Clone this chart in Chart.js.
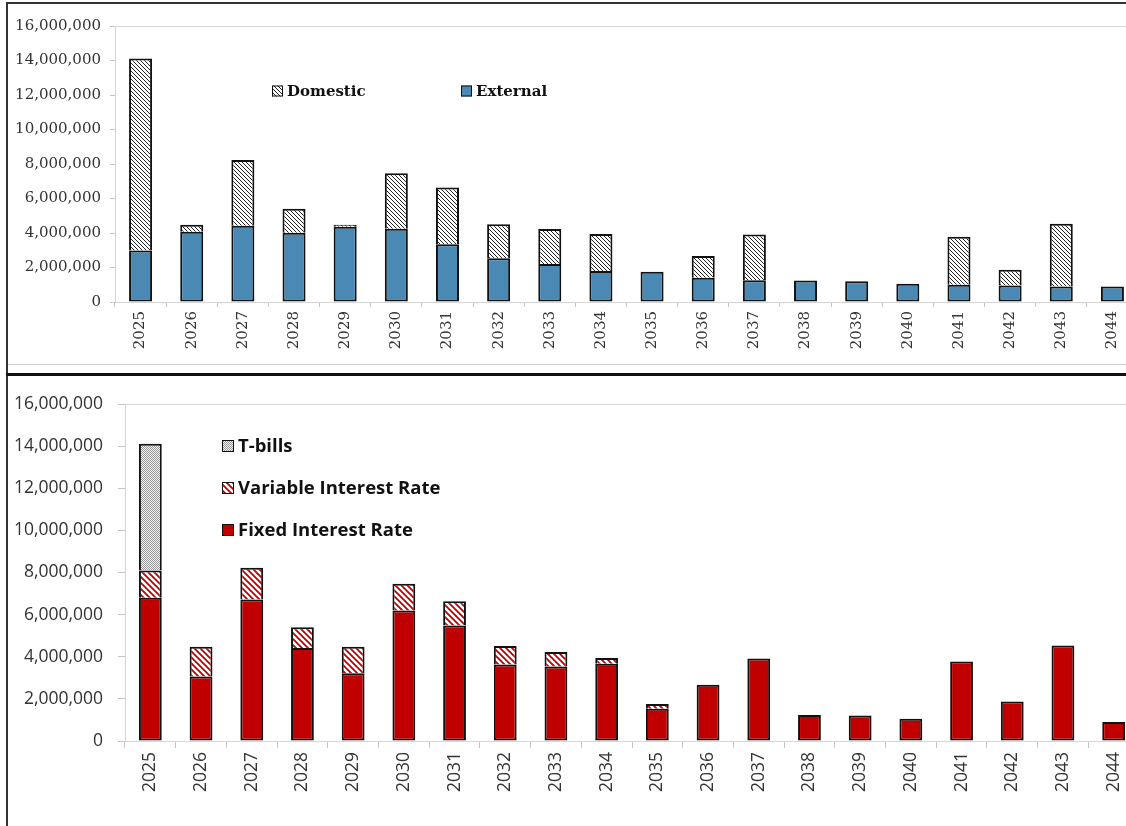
<!DOCTYPE html>
<html>
<head>
<meta charset="utf-8">
<title>Debt maturity profile</title>
<script src="https://cdn.jsdelivr.net/npm/chart.js@4.4.1/dist/chart.umd.min.js"></script>
<style>
  html, body { margin: 0; padding: 0; background: #fff; overflow: hidden; width: 1126px; height: 826px; }
  canvas { position: absolute; left: 0; }
  #topChart { top: 0; }
  #bottomChart { top: 376px; }
  .rule { position: absolute; pointer-events: none; }
</style>
</head>
<body>
<canvas id="topChart" width="1138" height="364"></canvas>
<canvas id="bottomChart" width="1139" height="450"></canvas>

<!-- panel frames -->
<div class="rule" style="left:6px;top:2px;width:1130px;height:2px;background:#333"></div>
<div class="rule" style="left:6px;top:2px;width:2px;height:374px;background:#333"></div>
<div class="rule" style="left:8px;top:364px;width:1130px;height:1px;background:#cfcfcf"></div>
<div class="rule" style="left:6px;top:373px;width:1130px;height:3px;background:#111"></div>
<div class="rule" style="left:6px;top:376px;width:2px;height:450px;background:#333"></div>

<script>
const years = ['2025', '2026', '2027', '2028', '2029', '2030', '2031', '2032', '2033', '2034',
  '2035', '2036', '2037', '2038', '2039', '2040', '2041', '2042', '2043', '2044'];

// by creditor
const external = [2980000, 4070000, 4420000, 4010000, 4360000, 4240000, 3350000, 2540000, 2210000, 1790000,
  1760000, 1410000, 1260000, 1240000, 1210000, 1060000, 1000000, 960000, 900000, 900000];
const domestic = [11130000, 410000, 3810000, 1390000, 120000, 3220000, 3290000, 1970000, 2020000, 2150000,
  0, 1260000, 2660000, 0, 0, 0, 2780000, 910000, 3630000, 0];

// by interest type
const fixedRate = [6800000, 3060000, 6720000, 4410000, 3220000, 6200000, 5480000, 3630000, 3540000, 3670000,
  1530000, 2670000, 3920000, 1240000, 1210000, 1060000, 3780000, 1870000, 4530000, 900000];
const variableRate = [1290000, 1420000, 1510000, 990000, 1260000, 1260000, 1160000, 880000, 690000, 270000,
  230000, 0, 0, 0, 0, 0, 0, 0, 0, 0];
const tBills = [6020000, 0, 0, 0, 0, 0, 0, 0, 0, 0, 0, 0, 0, 0, 0, 0, 0, 0, 0, 0];

const yTicks = { min: 0, max: 16000000, step: 2000000 };

// empty segments shouldn't leave a stroked sliver
const nz = arr => arr.map(v => (v === 0 ? null : v));

function tile(size, paint) {
  const c = document.createElement('canvas');
  c.width = c.height = size;
  const g = c.getContext('2d');
  paint(g, size);
  return g.createPattern(c, 'repeat');
}

function hatch(color, bg, size, lw) {
  return tile(size, (g, s) => {
    g.fillStyle = bg;
    g.fillRect(0, 0, s, s);
    g.strokeStyle = color;
    g.lineWidth = lw;
    g.beginPath();
    g.moveTo(-2, -2); g.lineTo(s + 2, s + 2);
    g.moveTo(-2, s - 2); g.lineTo(2, s + 2);
    g.moveTo(s - 2, -2); g.lineTo(s + 2, 2);
    g.stroke();
  });
}

const speckle = tile(2, (g) => {
  g.fillStyle = '#f0f0f0'; g.fillRect(0, 0, 2, 2);
  g.fillStyle = '#9a9a9a'; g.fillRect(0, 0, 1, 1); g.fillRect(1, 1, 1, 1);
});

const blackHatch = hatch('#222', '#fff', 4, 1);
const redHatch = hatch('#c00000', '#fff', 6, 1.8);
const steelBlue = '#4a89b3';
const darkRed = '#c00000';

// light frame around the plot area
const plotFrame = {
  id: 'plotFrame',
  beforeDatasetsDraw(chart) {
    const { ctx, chartArea: a } = chart;
    ctx.save();
    ctx.strokeStyle = '#d6d6d6';
    ctx.lineWidth = 1;
    ctx.strokeRect(a.left + 0.5, a.top + 0.5, a.right - a.left, a.bottom - a.top);
    ctx.restore();
  }
};

function insideLegend(items, font, box) {
  return {
    id: 'insideLegend',
    afterDraw(chart) {
      const ctx = chart.ctx;
      ctx.save();
      ctx.font = font;
      ctx.textBaseline = 'middle';
      items.forEach(it => {
        ctx.fillStyle = it.fill;
        ctx.fillRect(it.x, it.y - box / 2, box, box);
        ctx.strokeStyle = '#111';
        ctx.lineWidth = 1;
        ctx.strokeRect(it.x + 0.5, it.y - box / 2 + 0.5, box - 1, box - 1);
        ctx.fillStyle = '#111';
        ctx.fillText(it.text, it.x + box + 4, it.y + 1);
      });
      ctx.restore();
    }
  };
}

function buildOptions(fontFamily, fontSize, yWidth, xHeight, padTop, tickLen, yPad) {
  const font = { family: fontFamily, size: fontSize };
  return {
    responsive: false,
    animation: false,
    layout: { padding: { top: padTop, left: 0, right: 0, bottom: 0 } },
    plugins: { legend: { display: false }, tooltip: { enabled: false } },
    scales: {
      x: {
        stacked: true,
        grid: { drawOnChartArea: false, tickLength: tickLen, color: '#c6c6c6', offset: true },
        border: { color: '#c6c6c6' },
        ticks: { autoSkip: false, minRotation: 90, maxRotation: 90, padding: 4, color: '#333', font },
        afterFit: s => { s.height = xHeight; }
      },
      y: {
        stacked: true,
        min: yTicks.min,
        max: yTicks.max,
        grid: { drawOnChartArea: false, tickLength: tickLen, color: '#c6c6c6' },
        border: { color: '#c6c6c6' },
        ticks: {
          stepSize: yTicks.step,
          padding: yPad,
          color: '#333',
          font,
          callback: v => v.toLocaleString('en-US')
        },
        afterFit: s => { s.width = yWidth; }
      }
    }
  };
}

const barBase = { borderColor: '#111', borderWidth: 2, categoryPercentage: 1, barPercentage: 0.45 };

new Chart(document.getElementById('topChart'), {
  type: 'bar',
  data: {
    labels: years,
    datasets: [
      { ...barBase, label: 'External', data: nz(external), backgroundColor: steelBlue, borderSkipped: false },
      { ...barBase, label: 'Domestic', data: nz(domestic), backgroundColor: blackHatch, borderSkipped: 'start' }
    ]
  },
  options: buildOptions('DejaVu Serif', 15, 115, 62, 26, 5, 9),
  plugins: [plotFrame, insideLegend([
    { text: 'Domestic', fill: blackHatch, x: 272, y: 91 },
    { text: 'External', fill: steelBlue, x: 461, y: 91 }
  ], 'bold 15px "DejaVu Serif"', 11)]
});

new Chart(document.getElementById('bottomChart'), {
  type: 'bar',
  data: {
    labels: years,
    datasets: [
      { ...barBase, label: 'Fixed Interest Rate', data: nz(fixedRate), backgroundColor: darkRed, borderSkipped: false },
      { ...barBase, label: 'Variable Interest Rate', data: nz(variableRate), backgroundColor: redHatch, borderSkipped: 'start' },
      { ...barBase, label: 'T-bills', data: nz(tBills), backgroundColor: speckle, borderSkipped: 'start' }
    ]
  },
  options: buildOptions('Open Sans', 17.5, 125, 85, 28, 7, 15),
  plugins: [plotFrame, insideLegend([
    { text: 'T-bills', fill: speckle, x: 222, y: 70 },
    { text: 'Variable Interest Rate', fill: redHatch, x: 222, y: 112 },
    { text: 'Fixed Interest Rate', fill: darkRed, x: 222, y: 154 }
  ], 'bold 18.5px "Open Sans"', 12)]
});
</script>
</body>
</html>
